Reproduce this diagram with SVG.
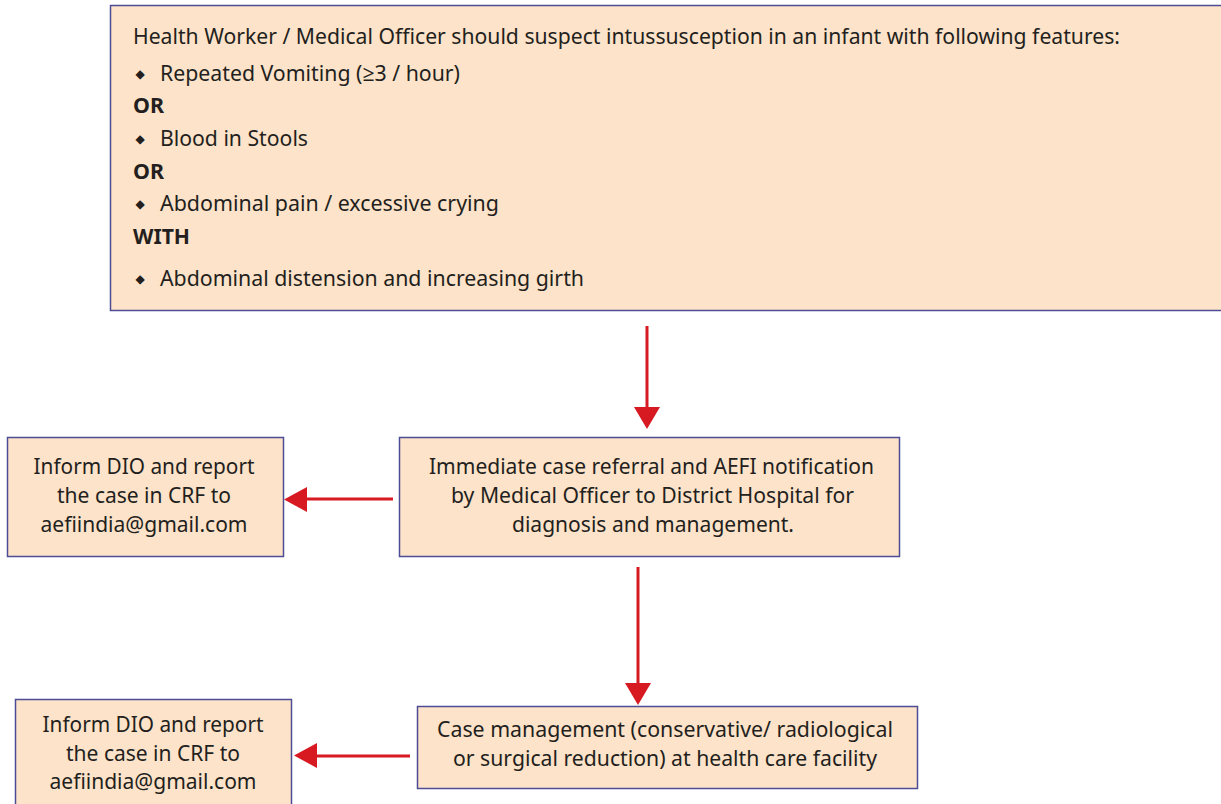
<svg xmlns="http://www.w3.org/2000/svg" width="1221" height="804" viewBox="0 0 1221 804">
<defs>
<style>
.box{fill:#fde3c9;stroke:#4d4d95;stroke-width:1.5}
.t{font-family:"Noto Sans","Open Sans",sans-serif;font-size:22px;fill:#231f20}
.c{text-anchor:middle}
.b{font-weight:bold}
.bul{font-family:"DejaVu Sans",sans-serif;font-size:12px;fill:#231f20;text-anchor:middle}
.arr{stroke:#d71921;stroke-width:3;fill:none}
.head{fill:#d71921}
</style>
</defs>
<rect width="1221" height="804" fill="#ffffff"/>
<g id="node-criteria">
<rect class="box" x="110.5" y="5.5" width="1120" height="305"/>
<text class="t" x="133" y="44" textLength="987" lengthAdjust="spacingAndGlyphs">Health Worker / Medical Officer should suspect intussusception in an infant with following features:</text>
<text class="bul" x="140" y="77.5">◆</text>
<text class="t" x="160" y="81" textLength="300" lengthAdjust="spacingAndGlyphs">Repeated Vomiting (≥3 / hour)</text>
<text class="t b" x="133" y="113" textLength="31" lengthAdjust="spacingAndGlyphs">OR</text>
<text class="bul" x="140" y="142.5">◆</text>
<text class="t" x="160" y="146" textLength="148" lengthAdjust="spacingAndGlyphs">Blood in Stools</text>
<text class="t b" x="133" y="179" textLength="31" lengthAdjust="spacingAndGlyphs">OR</text>
<text class="bul" x="140" y="207.5">◆</text>
<text class="t" x="160" y="211" textLength="339" lengthAdjust="spacingAndGlyphs">Abdominal pain / excessive crying</text>
<text class="t b" x="133" y="244" textLength="57" lengthAdjust="spacingAndGlyphs">WITH</text>
<text class="bul" x="140" y="282.5">◆</text>
<text class="t" x="160" y="286" textLength="424" lengthAdjust="spacingAndGlyphs">Abdominal distension and increasing girth</text>
</g>
<g id="node-referral">
<rect class="box" x="399.5" y="437.5" width="500" height="119"/>
<text class="t c" x="651.5" y="474" textLength="445" lengthAdjust="spacingAndGlyphs">Immediate case referral and AEFI notification</text>
<text class="t c" x="652.5" y="503" textLength="403" lengthAdjust="spacingAndGlyphs">by Medical Officer to District Hospital for</text>
<text class="t c" x="653" y="532" textLength="282" lengthAdjust="spacingAndGlyphs">diagnosis and management.</text>
</g>
<g id="node-inform1">
<rect class="box" x="7.5" y="437.5" width="276" height="119"/>
<text class="t c" x="144" y="474" textLength="221" lengthAdjust="spacingAndGlyphs">Inform DIO and report</text>
<text class="t c" x="144" y="503" textLength="174" lengthAdjust="spacingAndGlyphs">the case in CRF to</text>
<text class="t c" x="144" y="532" textLength="207" lengthAdjust="spacingAndGlyphs">aefiindia@gmail.com</text>
</g>
<g id="node-management">
<rect class="box" x="417.5" y="706.5" width="500" height="82"/>
<text class="t c" x="665" y="737" textLength="456" lengthAdjust="spacingAndGlyphs">Case management (conservative/ radiological</text>
<text class="t c" x="665" y="766" textLength="424" lengthAdjust="spacingAndGlyphs">or surgical reduction) at health care facility</text>
</g>
<g id="node-inform2">
<rect class="box" x="15.5" y="699.5" width="276" height="120"/>
<text class="t c" x="153" y="732" textLength="221" lengthAdjust="spacingAndGlyphs">Inform DIO and report</text>
<text class="t c" x="153" y="761" textLength="174" lengthAdjust="spacingAndGlyphs">the case in CRF to</text>
<text class="t c" x="153" y="789" textLength="207" lengthAdjust="spacingAndGlyphs">aefiindia@gmail.com</text>
</g>
<g id="connectors">
<line class="arr" x1="647" y1="326" x2="647" y2="409"/>
<polygon class="head" points="634,407 660,407 647,429"/>
<line class="arr" x1="393" y1="499" x2="305" y2="499"/>
<polygon class="head" points="307,487 307,512 284,499.5"/>
<line class="arr" x1="638" y1="567" x2="638" y2="685"/>
<polygon class="head" points="625,683 651,683 638,705"/>
<line class="arr" x1="410" y1="756" x2="315" y2="756"/>
<polygon class="head" points="317,743 317,768 294,755.5"/>
</g>
</svg>
